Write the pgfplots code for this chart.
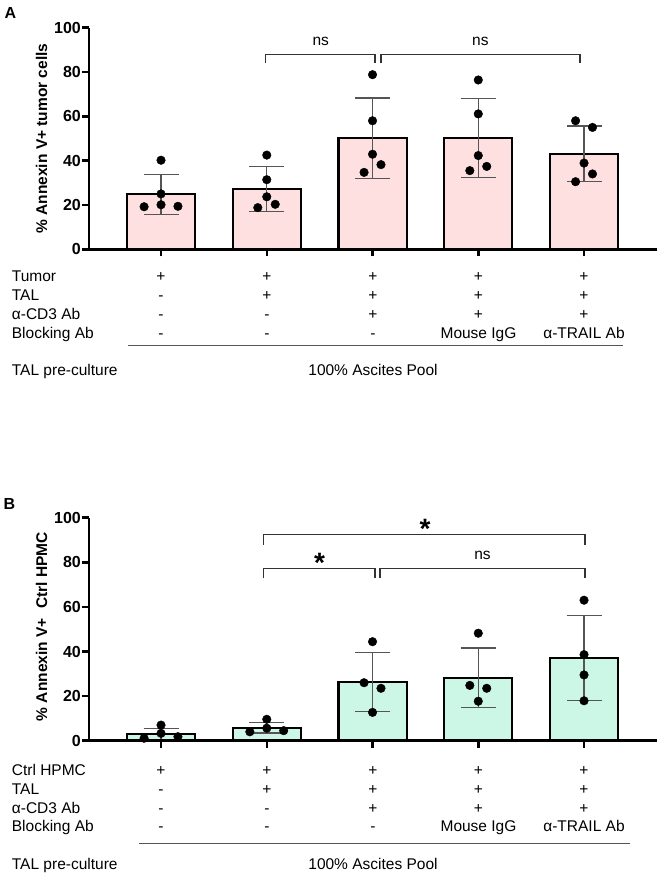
\documentclass[border=0pt]{standalone}
\usepackage{pgfplots}
\pgfplotsset{compat=1.18}
\usepackage{fontspec}
\setmainfont{Liberation Sans}
\definecolor{barA}{HTML}{FFE0E0}
\definecolor{barB}{HTML}{CCF7E6}
\definecolor{errg}{HTML}{555555}
\definecolor{brk}{HTML}{333333}
\pgfplotsset{panel/.style={
  scale only axis, width=568pt,
  xmin=-0.681, xmax=4.69, ymin=0, ymax=100,
  axis lines*=left, axis line style={line width=2.5pt, black},
  xtick={0,1,2,3,4}, xticklabels={}, ytick={0,20,...,100},
  tick align=outside, major tick length=7pt, tick style={line width=2.5pt, black},
  /pgf/number format/assume math mode=true,
  yticklabel style={font=\fontsize{16}{16}\selectfont\bfseries, inner sep=1pt},
  ylabel style={font=\fontsize{15.5}{16}\selectfont\bfseries, anchor=center},
  clip=false, axis on top,
  anchor=south west,
}}
\pgfplotsset{bars/.style={ybar, bar width=0.645, draw=black, line width=2.2pt,
  error bars/y dir=both, error bars/y explicit,
  error bars/error bar style={line width=1.3pt, errg},
  error bars/error mark options={rotate=90, line width=1.3pt, errg, mark size=17.5pt}}}
\pgfplotsset{dots/.style={only marks, mark=*, mark size=4.3pt, black}}
\newcommand{\trow}[7]{%
  \node[anchor=base west, inner sep=0] at (11.7pt,#1) {#2};
  \node[anchor=base, inner sep=0] at (161pt,#1) {#3};
  \node[anchor=base, inner sep=0] at (267pt,#1) {#4};
  \node[anchor=base, inner sep=0] at (373pt,#1) {#5};
  \node[anchor=base, inner sep=0] at (478.5pt,#1) {#6};
  \node[anchor=base, inner sep=0] at (584pt,#1) {#7};}
\begin{document}
\begin{tikzpicture}[font=\fontsize{15.5}{18}\selectfont]
\useasboundingbox (0,0) rectangle (660pt,875pt);
% ---------------- Panel A ----------------
\begin{axis}[panel, height=221.6pt, at={(89pt,625.7pt)},
  ylabel={\% Annexin V+ tumor cells},
  ylabel style={at={(axis description cs:-0.0833,0.5)}}]
\addplot[fill=barA, bars] coordinates {
  (0,24.8) +- (0,9.0)
  (1,27.3) +- (0,10.1)
  (2,50.2) +- (0,18.1)
  (3,50.2) +- (0,17.7)
  (4,43.1) +- (0,12.5)};
\addplot[dots] coordinates {
  (-0.16,19.2) (0,25.0) (0,20.1) (0.16,19.4) (0,40.2)
  (1,42.5) (1,31.4) (1,23.7) (0.915,18.8) (1.08,20.3)
  (2,78.8) (2,58.0) (2,42.9) (2.08,38.2) (1.92,34.7)
  (3,76.4) (3,61.1) (3,42.3) (2.92,35.5) (3.08,37.4)
  (3.92,58.0) (4.08,55.0) (4,38.9) (4.08,34.0) (3.92,30.5)};
\draw[brk, line width=1.5pt] (axis cs:0.99,84) -- (axis cs:0.99,88) -- (axis cs:2.025,88) -- (axis cs:2.025,84);
\draw[brk, line width=1.5pt] (axis cs:2.08,84) -- (axis cs:2.08,88) -- (axis cs:3.96,88) -- (axis cs:3.96,84);
\node at (axis cs:1.51,93.7) {ns};
\node at (axis cs:3.02,93.7) {ns};
\end{axis}
\node[font=\fontsize{16}{16}\selectfont\bfseries] at (10.5pt,861.5pt) {A};
\trow{593.1pt}{Tumor}{+}{+}{+}{+}{+}
\trow{574.1pt}{TAL}{-}{+}{+}{+}{+}
\trow{555.1pt}{α-CD3 Ab}{-}{-}{+}{+}{+}
\trow{536.1pt}{Blocking Ab}{-}{-}{-}{Mouse IgG}{α-TRAIL Ab}
\draw[errg, line width=1.3pt] (128pt,529.5pt) -- (623pt,529.5pt);
\node[anchor=base west, inner sep=0] at (11.7pt,499.6pt) {TAL pre-culture};
\node[anchor=base, inner sep=0] at (373pt,499.6pt) {100\% Ascites Pool};
% ---------------- Panel B ----------------
\begin{axis}[panel, height=223pt, at={(89pt,134.3pt)},
  ylabel={\% Annexin V+\hspace{0.6em}Ctrl HPMC},
  ylabel style={at={(axis description cs:-0.0833,0.511)}}]
\addplot[fill=barB, bars] coordinates {
  (0,3.0) +- (0,2.6)
  (1,5.8) +- (0,2.4)
  (2,26.4) +- (0,13.2)
  (3,28.2) +- (0,13.4)
  (4,37.0) +- (0,19.0)};
\addplot[dots] coordinates {
  (0,7.0) (0,3.3) (-0.16,1.1) (0.16,1.8)
  (1,9.6) (1,5.6) (0.84,4.0) (1.16,4.5)
  (2,44.4) (1.92,26.0) (2.08,23.5) (2,12.7)
  (3,48.2) (2.92,24.8) (3.08,23.5) (3,17.7)
  (4,63.0) (4,38.6) (4,29.5) (4,17.9)};
\draw[brk, line width=1.5pt] (axis cs:0.967,87.8) -- (axis cs:0.967,92.4) -- (axis cs:4.01,92.4) -- (axis cs:4.01,87.8);
\draw[brk, line width=1.5pt] (axis cs:0.967,72.8) -- (axis cs:0.967,77.3) -- (axis cs:2.024,77.3) -- (axis cs:2.024,72.8);
\draw[brk, line width=1.5pt] (axis cs:2.07,72.8) -- (axis cs:2.07,77.3) -- (axis cs:4.01,77.3) -- (axis cs:4.01,72.8);
\node at (axis cs:3.04,83) {ns};
\end{axis}
\node[anchor=base, inner sep=0, font=\fontsize{28}{28}\selectfont\bfseries] at (425pt,336.4pt) {*};
\node[anchor=base, inner sep=0, font=\fontsize{28}{28}\selectfont\bfseries] at (319.5pt,302.4pt) {*};
\node[font=\fontsize{16}{16}\selectfont\bfseries] at (9.5pt,371pt) {B};
\trow{99.9pt}{Ctrl HPMC}{+}{+}{+}{+}{+}
\trow{80.8pt}{TAL}{-}{+}{+}{+}{+}
\trow{61.8pt}{α-CD3 Ab}{-}{-}{+}{+}{+}
\trow{43.3pt}{Blocking Ab}{-}{-}{-}{Mouse IgG}{α-TRAIL Ab}
\draw[errg, line width=1.3pt] (139pt,31.7pt) -- (630pt,31.7pt);
\node[anchor=base west, inner sep=0] at (11.7pt,5.6pt) {TAL pre-culture};
\node[anchor=base, inner sep=0] at (373pt,5.6pt) {100\% Ascites Pool};
\end{tikzpicture}
\end{document}
